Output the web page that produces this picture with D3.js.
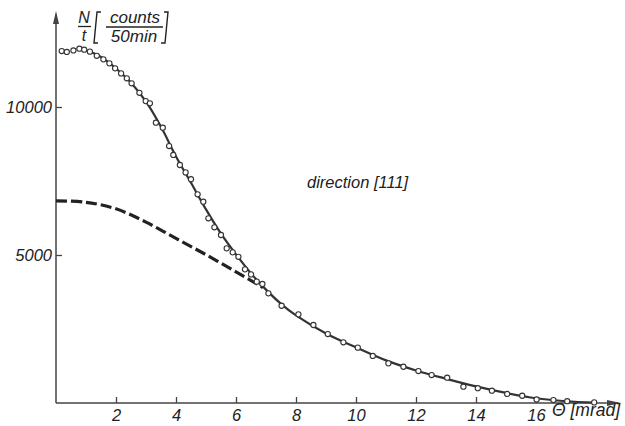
<!DOCTYPE html>
<html lang="en">
<head>
<meta charset="utf-8">
<title>N/t vs theta</title>
<script src="https://cdn.jsdelivr.net/npm/d3@7"></script>
<style>
  body { margin: 0; background: #fff; }
  svg text { font-family: "Liberation Sans", Arial, sans-serif; font-style: italic; fill: #222; }
  .tick line { stroke: #444; stroke-width: 1.3; }
  .tick text { font-size: 16.5px; }
</style>
</head>
<body>
<script>
// measured points (theta in mrad, counts per 50 min)
var thetaPts = [0.19, 0.36, 0.58, 0.78, 0.94, 1.13, 1.36, 1.58, 1.78, 1.97, 2.17, 2.36, 2.52, 2.78, 2.99, 3.13,
  3.33, 3.56, 3.77, 3.91, 4.13, 4.32, 4.50, 4.72, 4.91, 5.08, 5.28, 5.50, 5.69, 5.89, 6.08, 6.30, 6.50, 6.69,
  6.88, 7.08, 7.52, 8.08, 8.58, 9.06, 9.58, 10.06, 10.56, 11.08, 11.58, 12.08, 12.52, 13.04, 13.58, 14.06,
  14.53, 15.04, 15.54, 16.02, 16.58, 17.04, 17.94];
var countPts = [11890, 11860, 11910, 11970, 11935, 11870, 11730, 11610, 11475, 11305, 11135, 10970, 10800, 10480, 10200, 10125,
  9470, 9300, 8680, 8380, 8040, 7790, 7560, 7050, 6800, 6240, 5935, 5675, 5225, 5090, 4940, 4515, 4345, 4100,
  4020, 3705, 3285, 2995, 2635, 2330, 2050, 1870, 1590, 1340, 1225, 1080, 945, 855, 550, 500,
  415, 305, 245, 120, 100, 60, 20];

// solid fitted curve
var fitTheta = [1.1, 1.5, 2, 2.5, 3, 3.5, 4, 4.5, 5, 5.5, 6, 6.5, 7, 7.5, 8, 9, 10, 11, 12, 13, 14, 15, 16, 17, 17.95];
var fitCount = [11880, 11690, 11300, 10820, 10180, 9330, 8330, 7440, 6540, 5720, 5020, 4380, 3830, 3350, 2960, 2350, 1880, 1440, 1100, 820, 560, 340, 160, 60, 15];

// dashed curve
var dashTheta = [0, 1, 2, 3, 4, 5, 6, 6.9];
var dashCount = [6830, 6780, 6560, 6110, 5560, 5010, 4430, 3900];

var xTicks = [2, 4, 6, 8, 10, 12, 14, 16];
var yTicks = [5000, 10000];

var w = 625, h = 426;
var svg = d3.select("body").append("svg").attr("width", w).attr("height", h);

var x = d3.scaleLinear().domain([0, 18]).range([56, 596]);
var y = d3.scaleLinear().domain([0, 10000]).range([403, 107]);

var ink = "#333";

// axes lines with arrows
svg.append("line").attr("x1", x(0)).attr("y1", y(0)).attr("x2", x(0)).attr("y2", 14)
  .attr("stroke", "#444").attr("stroke-width", 1.5);
svg.append("path").attr("d", "M" + x(0) + ",11 l-3,13 l6,0 z").attr("fill", "#444");
svg.append("line").attr("x1", x(0)).attr("y1", y(0)).attr("x2", 618).attr("y2", y(0))
  .attr("stroke", "#444").attr("stroke-width", 1.5);
svg.append("path").attr("d", "M621," + y(0) + " l-14,-3 l0,6 z").attr("fill", "#444");

// ticks
var xAxis = svg.append("g").attr("transform", "translate(0," + y(0) + ")")
  .call(d3.axisBottom(x).tickValues(xTicks).tickSizeInner(-6).tickSizeOuter(0).tickPadding(6));
xAxis.select(".domain").remove();

var yAxis = svg.append("g").attr("transform", "translate(" + x(0) + ",0)")
  .call(d3.axisLeft(y).tickValues(yTicks).tickSizeInner(-6).tickSizeOuter(0).tickPadding(4)
    .tickFormat(d3.format("d")));
yAxis.select(".domain").remove();

// curves
var line = d3.line().x(function(d) { return x(d[0]); }).y(function(d) { return y(d[1]); })
  .curve(d3.curveCatmullRom.alpha(0.5));

svg.append("path").datum(d3.zip(fitTheta, fitCount)).attr("d", line)
  .attr("fill", "none").attr("stroke", ink).attr("stroke-width", 2.2);

svg.append("path").datum(d3.zip(dashTheta, dashCount)).attr("d", line)
  .attr("fill", "none").attr("stroke", "#222").attr("stroke-width", 3.2)
  .attr("stroke-dasharray", "11,4");

// data circles
svg.selectAll("circle").data(d3.zip(thetaPts, countPts)).enter().append("circle")
  .attr("cx", function(d) { return x(d[0]); })
  .attr("cy", function(d) { return y(d[1]); })
  .attr("r", 2.6)
  .attr("fill", "#fff").attr("stroke", ink).attr("stroke-width", 1.1);

// labels
svg.append("text").attr("x", 552).attr("y", 416).attr("font-size", 17.5).text("\u0398 [mrad]");
svg.append("text").attr("x", 307).attr("y", 188).attr("font-size", 16.5).text("direction [111]");

// y label: N/t [counts/50min]
var yl = svg.append("g");
yl.append("text").attr("x", 84).attr("y", 23).attr("font-size", 16).attr("text-anchor", "middle").text("N");
yl.append("line").attr("x1", 78).attr("x2", 91).attr("y1", 26.5).attr("y2", 26.5).attr("stroke", "#222").attr("stroke-width", 1.3);
yl.append("text").attr("x", 84).attr("y", 41).attr("font-size", 16).attr("text-anchor", "middle").text("t");
yl.append("path").attr("d", "M101,12 L97,12 L94,43 L98,43").attr("fill", "none").attr("stroke", "#222").attr("stroke-width", 1.4);
yl.append("text").attr("x", 135).attr("y", 23).attr("font-size", 17).attr("text-anchor", "middle").text("counts");
yl.append("line").attr("x1", 106).attr("x2", 163).attr("y1", 27).attr("y2", 27).attr("stroke", "#222").attr("stroke-width", 1.3);
yl.append("text").attr("x", 134).attr("y", 42).attr("font-size", 17).attr("text-anchor", "middle").text("50min");
yl.append("path").attr("d", "M164,12 L168,12 L165,43 L161,43").attr("fill", "none").attr("stroke", "#222").attr("stroke-width", 1.4);
</script>
</body>
</html>
